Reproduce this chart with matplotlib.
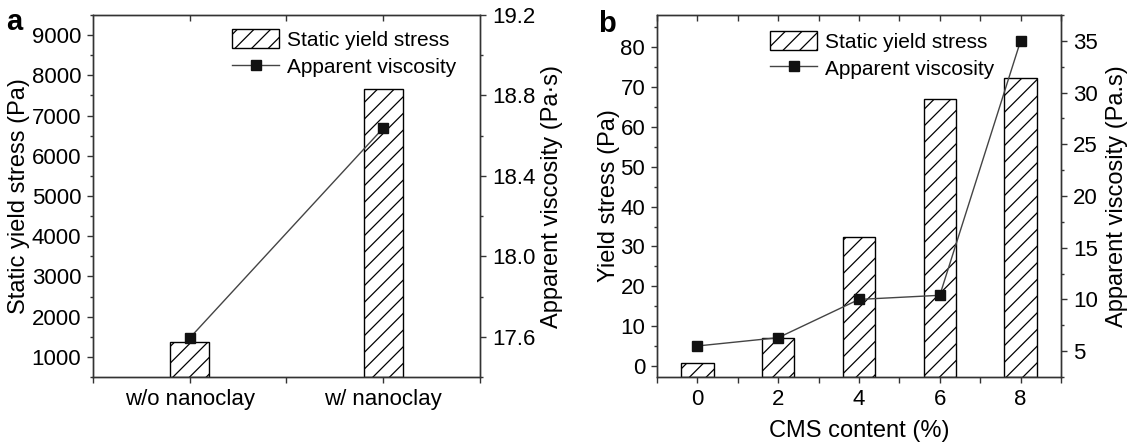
import matplotlib.pyplot as plt
from matplotlib.ticker import MultipleLocator, FixedLocator
from matplotlib.lines import Line2D
from matplotlib.patches import Patch

plt.rcParams['font.family'] = ['Liberation Sans', 'DejaVu Sans']
plt.rcParams['hatch.linewidth'] = 0.9
plt.rcParams['hatch.color'] = 'black'

# (a) with / without nanoclay
clay_labels = ['w/o nanoclay', 'w/ nanoclay']
clay_pos = [1, 2]
clay_yield = [1380, 7650]        # Pa
clay_visc = [17.594, 18.638]     # Pa.s

# (b) CMS content series
cms_content = [0, 2, 4, 6, 8]
cms_yield = [0.9, 7.1, 32.5, 67.0, 72.2]
cms_visc = [5.5, 6.3, 10.0, 10.4, 35.0]

legend_labels = ['Static yield stress', 'Apparent viscosity']

SPINE = '#333333'
LINE = '#444444'
MARK = '#111111'

fig = plt.figure(figsize=(11.31, 4.45), dpi=100)
W, H = 1131, 445
ax_a = fig.add_axes([93 / W, 1 - 377 / H, 387 / W, 362 / H])
ax_b = fig.add_axes([657 / W, 1 - 377 / H, 404 / W, 362 / H])


def style(ax, ax2, xminor):
    for a in (ax, ax2):
        for sp in a.spines.values():
            sp.set_color(SPINE)
            sp.set_linewidth(1.0)
    ax.spines['top'].set_visible(False)
    ax.tick_params(axis='both', which='major', direction='out', length=4.5,
                   width=1.0, color=SPINE, labelsize=16, pad=4)
    ax.tick_params(axis='y', which='minor', direction='out', length=2.5,
                   width=1.0, color=SPINE)
    ax.tick_params(axis='x', which='minor', direction='out', length=4.5,
                   width=1.0, color=SPINE)
    ax.tick_params(right=False, which='both')
    ax2.tick_params(axis='y', which='major', direction='out', length=4.5,
                    width=1.0, color=SPINE, labelsize=16, pad=4)
    ax2.tick_params(axis='y', which='minor', direction='out', length=2.5,
                    width=1.0, color=SPINE)
    # inward ticks along the top frame
    top = ax.secondary_xaxis('top')
    top.set_xticks(ax.get_xticks())
    top.xaxis.set_minor_locator(xminor)
    top.tick_params(which='both', direction='in', length=4.5, width=1.0,
                    color=SPINE, labeltop=False)
    top.spines['top'].set_color(SPINE)
    top.spines['top'].set_linewidth(1.0)


def add_legend(ax2, anchor):
    handles = [
        Patch(facecolor='white', edgecolor='black', hatch='//', linewidth=1.0),
        Line2D([], [], color=LINE, lw=1, marker='s', ms=7.5,
               mfc=MARK, mec=MARK),
    ]
    leg = ax2.legend(handles, legend_labels, loc='upper left',
                     bbox_to_anchor=anchor, frameon=False, fontsize=15,
                     borderpad=0, borderaxespad=0, handlelength=2.27,
                     handleheight=1.05, handletextpad=0.35, labelspacing=0.3)
    leg.set_zorder(10)


# ---- panel a ----
ya_min, ya_max = 500, 9500
ax_a.bar(clay_pos, [v - ya_min for v in clay_yield], bottom=ya_min, width=0.2,
         color='white', edgecolor='black', hatch='//', linewidth=1.0, zorder=2)
ax_a.set_xlim(0.5, 2.5)
ax_a.set_ylim(ya_min, ya_max)
ax_a.set_xticks(clay_pos)
ax_a.set_xticklabels(clay_labels)
ax_a.xaxis.set_minor_locator(FixedLocator([0.5, 1.5, 2.5]))
ax_a.yaxis.set_major_locator(FixedLocator(range(1000, 9001, 1000)))
ax_a.yaxis.set_minor_locator(MultipleLocator(500))
ax_a.set_ylabel('Static yield stress (Pa)', fontsize=17)

ax_a2 = ax_a.twinx()
ax_a2.plot(clay_pos, clay_visc, color=LINE, lw=1, marker='s', ms=7.5,
           mfc=MARK, mec=MARK)
ax_a2.set_ylim(17.4, 19.2)
ax_a2.yaxis.set_major_locator(FixedLocator([17.6, 18.0, 18.4, 18.8, 19.2]))
ax_a2.yaxis.set_major_formatter(plt.FuncFormatter(lambda v, p: f'{v:.1f}'))
ax_a2.yaxis.set_minor_locator(MultipleLocator(0.2))
ax_a2.set_ylabel('Apparent viscosity (Pa·s)', fontsize=17)

style(ax_a, ax_a2, FixedLocator([1.5]))
ax_a.yaxis.set_label_coords(-0.164, 0.5)
ax_a2.yaxis.set_label_coords(1.157, 0.5)
add_legend(ax_a2, (0.359, 0.961))

# ---- panel b ----
yb_min, yb_max = -2.7, 88
ax_b.bar(cms_content, [v - yb_min for v in cms_yield], bottom=yb_min,
         width=0.8, color='white', edgecolor='black', hatch='//',
         linewidth=1.0, zorder=2)
ax_b.set_xlim(-1, 9)
ax_b.set_ylim(yb_min, yb_max)
ax_b.set_xticks(cms_content)
ax_b.xaxis.set_minor_locator(MultipleLocator(1))
ax_b.yaxis.set_major_locator(FixedLocator(range(0, 81, 10)))
ax_b.yaxis.set_minor_locator(MultipleLocator(5))
ax_b.set_ylabel('Yield stress (Pa)', fontsize=17)
ax_b.set_xlabel('CMS content (%)', fontsize=17, labelpad=7)

ax_b2 = ax_b.twinx()
ax_b2.plot(cms_content, cms_visc, color=LINE, lw=1, marker='s', ms=7.5,
           mfc=MARK, mec=MARK)
ax_b2.set_ylim(2.5, 37.5)
ax_b2.yaxis.set_major_locator(FixedLocator(range(5, 36, 5)))
ax_b2.yaxis.set_minor_locator(MultipleLocator(2.5))
ax_b2.set_ylabel('Apparent viscosity (Pa.s)', fontsize=17)

style(ax_b, ax_b2, MultipleLocator(1))
ax_b.yaxis.set_label_coords(-0.092, 0.5)
ax_b2.yaxis.set_label_coords(1.111, 0.5)
add_legend(ax_b2, (0.28, 0.956))

fig.text(6 / W, 1 - 30 / H, 'a', fontsize=21, fontweight='bold',
         ha='left', va='baseline')
fig.text(598 / W, 1 - 32 / H, 'b', fontsize=21, fontweight='bold',
         ha='left', va='baseline')

fig.savefig('out.png', dpi=100)
